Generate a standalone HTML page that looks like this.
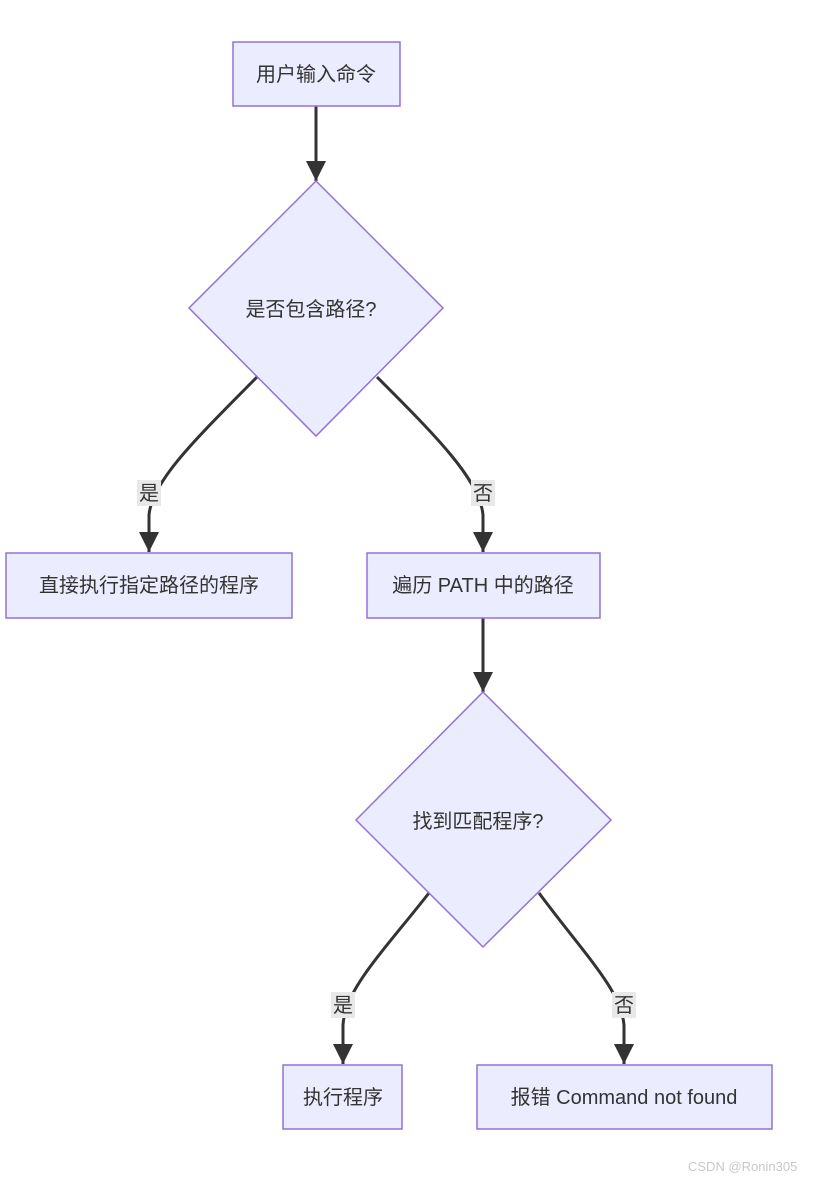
<!DOCTYPE html>
<html><head><meta charset="utf-8"><style>
html,body{margin:0;padding:0;background:#fff;}
svg{display:block;}
text{font-family:"Liberation Sans","Noto Sans CJK SC",sans-serif;fill:#333;}
</style></head><body>
<svg width="822" height="1181" viewBox="0 0 822 1181" xmlns="http://www.w3.org/2000/svg">
<defs>
<marker id="ah" viewBox="0 0 10 10" refX="10" refY="5" markerUnits="userSpaceOnUse" markerWidth="20" markerHeight="20" orient="auto">
<path d="M0,0 L10,5 L0,10 z" fill="#333"/>
</marker>
</defs>
<g fill="none" stroke="#333" stroke-width="3">
<path d="M316,106 L316,181" marker-end="url(#ah)"/>
<path d="M257,377 C200,435 152,480 149,515 L149,552" marker-end="url(#ah)"/>
<path d="M377,377 C435,435 480,480 483,515 L483,552" marker-end="url(#ah)"/>
<path d="M483,618 L483,692" marker-end="url(#ah)"/>
<path d="M429,893 C380,955 345,990 343,1025 L343,1064" marker-end="url(#ah)"/>
<path d="M539,893 C585,955 621,990 624,1025 L624,1064" marker-end="url(#ah)"/>
</g>
<g fill="#ECECFF" stroke="#9370DB" stroke-width="1.5">
<rect x="233" y="42" width="167" height="64"/>
<polygon points="316,181 443,308 316,436 189,308"/>
<rect x="6" y="553" width="286" height="65"/>
<rect x="367" y="553" width="233" height="65"/>
<polygon points="483,692 611,820 483,947 356,820"/>
<rect x="283" y="1065" width="119" height="64"/>
<rect x="477" y="1065" width="295" height="64"/>
</g>
<g fill="#e8e8e8">
<rect x="137" y="480" width="24" height="26"/>
<rect x="471" y="480" width="24" height="26"/>
<rect x="331" y="992" width="24" height="26"/>
<rect x="612" y="992" width="24" height="26"/>
</g>
<g font-size="20" text-anchor="middle">
<text x="316" y="81">用户输入命令</text>
<text x="311" y="316">是否包含路径?</text>
<text x="149" y="500">是</text>
<text x="483" y="500">否</text>
<text x="149" y="592">直接执行指定路径的程序</text>
<text x="483" y="592">遍历 PATH 中的路径</text>
<text x="478" y="828">找到匹配程序?</text>
<text x="343" y="1012">是</text>
<text x="624" y="1012">否</text>
<text x="343" y="1104">执行程序</text>
<text x="624" y="1104">报错 Command not found</text>
</g>
<text x="688" y="1171" font-size="13" fill="#ccc" style="fill:#c8c8c8">CSDN @Ronin305</text>
</svg>
</body></html>
